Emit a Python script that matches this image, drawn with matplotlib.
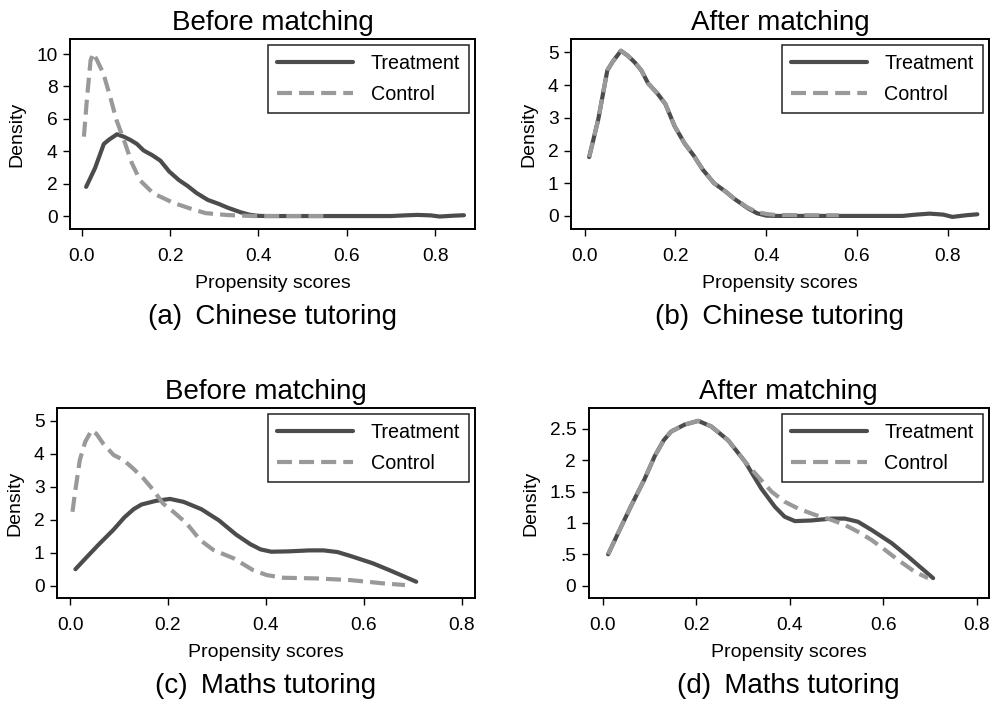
import matplotlib
matplotlib.use("Agg")
import matplotlib.pyplot as plt

plt.rcParams['font.family'] = ['Liberation Sans', 'DejaVu Sans']

# ---------------- data ----------------
chn_treat_x = [0.01, 0.03, 0.05, 0.062, 0.08, 0.095, 0.11, 0.125, 0.14, 0.16, 0.178, 0.198,
               0.22, 0.24, 0.26, 0.285, 0.31, 0.33, 0.36, 0.38, 0.40, 0.42, 0.5, 0.6, 0.7,
               0.73, 0.76, 0.79, 0.81, 0.84, 0.865]
chn_treat_y = [1.8, 2.95, 4.45, 4.72, 5.05, 4.9, 4.7, 4.45, 4.05, 3.75, 3.42, 2.75,
               2.22, 1.85, 1.42, 1.0, 0.75, 0.52, 0.23, 0.08, 0.01, 0.0, 0.0, 0.0, 0.0,
               0.04, 0.07, 0.04, -0.03, 0.02, 0.05]

chn_ctrl_before_x = [0.005, 0.012, 0.02, 0.026, 0.035, 0.049, 0.064, 0.079, 0.098, 0.113,
                     0.132, 0.162, 0.207, 0.245, 0.28, 0.33, 0.39, 0.45, 0.5, 0.56]
chn_ctrl_before_y = [4.9, 7.3, 9.6, 10.05, 9.6, 8.8, 7.4, 5.9, 4.5, 3.3,
                     2.2, 1.4, 0.82, 0.47, 0.18, 0.06, 0.0, 0.0, 0.0, 0.0]

chn_ctrl_after_x = [0.01, 0.03, 0.05, 0.062, 0.08, 0.095, 0.11, 0.125, 0.14, 0.16, 0.178, 0.198,
                    0.22, 0.24, 0.26, 0.285, 0.31, 0.33, 0.36, 0.38, 0.40, 0.42, 0.5, 0.56]
chn_ctrl_after_y = [1.8, 2.95, 4.45, 4.72, 5.05, 4.9, 4.7, 4.45, 4.05, 3.75, 3.42, 2.75,
                    2.22, 1.85, 1.42, 1.0, 0.75, 0.52, 0.25, 0.12, 0.06, 0.03, 0.02, 0.02]

math_treat_x = [0.011, 0.035, 0.06, 0.089, 0.111, 0.13, 0.146, 0.175, 0.204, 0.232, 0.268,
                0.304, 0.339, 0.368, 0.389, 0.411, 0.446, 0.489, 0.518, 0.546, 0.575,
                0.618, 0.654, 0.682, 0.707]
math_treat_y = [0.5, 0.88, 1.27, 1.7, 2.07, 2.32, 2.46, 2.57, 2.63, 2.54, 2.32,
                1.98, 1.55, 1.26, 1.10, 1.03, 1.04, 1.07, 1.07, 1.02, 0.89,
                0.68, 0.46, 0.28, 0.12]

math_ctrl_before_x = [0.005, 0.01, 0.02, 0.031, 0.044, 0.054, 0.068, 0.089, 0.109, 0.129,
                      0.15, 0.17, 0.19, 0.211, 0.238, 0.266, 0.293, 0.334, 0.374, 0.402,
                      0.436, 0.504, 0.572, 0.606, 0.64, 0.684]
math_ctrl_before_y = [2.24, 2.8, 3.81, 4.36, 4.71, 4.6, 4.3, 3.96, 3.81, 3.55,
                      3.25, 2.9, 2.49, 2.24, 1.89, 1.38, 1.08, 0.83, 0.47, 0.32,
                      0.24, 0.22, 0.17, 0.12, 0.07, 0.02]

math_ctrl_after_x = [0.011, 0.035, 0.06, 0.089, 0.111, 0.13, 0.146, 0.175, 0.204, 0.232, 0.268,
                     0.304, 0.332, 0.361, 0.389, 0.418, 0.454, 0.489, 0.518, 0.546, 0.575,
                     0.604, 0.632, 0.668, 0.696]
math_ctrl_after_y = [0.5, 0.88, 1.27, 1.7, 2.07, 2.32, 2.46, 2.57, 2.63, 2.54, 2.32,
                     1.98, 1.74, 1.50, 1.34, 1.23, 1.13, 1.05, 0.97, 0.86, 0.73,
                     0.57, 0.41, 0.22, 0.12]

x_ticks = [0.0, 0.2, 0.4, 0.6, 0.8]
x_ticklabels = ["0.0", "0.2", "0.4", "0.6", "0.8"]

yticks_a = [0, 2, 4, 6, 8, 10]
yticklabels_a = ["0", "2", "4", "6", "8", "10"]
yticks_b = [0, 1, 2, 3, 4, 5]
yticklabels_b = ["0", "1", "2", "3", "4", "5"]
yticks_c = [0, 1, 2, 3, 4, 5]
yticklabels_c = ["0", "1", "2", "3", "4", "5"]
yticks_d = [0, 0.5, 1, 1.5, 2, 2.5]
yticklabels_d = ["0", ".5", "1", "1.5", "2", "2.5"]

titles = ["Before matching", "After matching", "Before matching", "After matching"]
captions = ["(a)\u2009 Chinese tutoring", "(b)\u2009 Chinese tutoring",
            "(c)\u2009 Maths tutoring", "(d)\u2009 Maths tutoring"]
series_labels = ["Treatment", "Control"]

# ---------------- layout ----------------
W, H = 996, 705
fig = plt.figure(figsize=(W / 100, H / 100), dpi=100)

def px_axes(l, t, r, b):
    return fig.add_axes([l / W, 1 - b / H, (r - l) / W, (b - t) / H])

ax_a = px_axes(70, 39, 475, 229)
ax_b = px_axes(571, 39, 988.7, 229)
ax_c = px_axes(57, 408, 475, 598)
ax_d = px_axes(588.7, 408, 988.7, 598)

TREAT_C = "#4c4c4c"
CTRL_C = "#999999"
LW = 3.0

panels = [
    (ax_a, chn_treat_x, chn_treat_y, chn_ctrl_before_x, chn_ctrl_before_y,
     yticks_a, yticklabels_a, (-0.0265, 0.89), (-0.80, 10.93)),
    (ax_b, chn_treat_x, chn_treat_y, chn_ctrl_after_x, chn_ctrl_after_y,
     yticks_b, yticklabels_b, (-0.030, 0.89), (-0.40, 5.41)),
    (ax_c, math_treat_x, math_treat_y, math_ctrl_before_x, math_ctrl_before_y,
     yticks_c, yticklabels_c, (-0.0266, 0.827), (-0.373, 5.385)),
    (ax_d, math_treat_x, math_treat_y, math_ctrl_after_x, math_ctrl_after_y,
     yticks_d, yticklabels_d, (-0.0306, 0.826), (-0.197, 2.835)),
]

for i, (ax, tx, ty, cx, cy, yt, ytl, xl, yl) in enumerate(panels):
    ax.plot(tx, ty, color=TREAT_C, lw=LW, solid_capstyle='round',
            solid_joinstyle='round', label=series_labels[0], zorder=3)
    ax.plot(cx, cy, color=CTRL_C, lw=LW, dashes=(3.6, 1.7), dash_capstyle='butt',
            label=series_labels[1], zorder=4)
    ax.set_xlim(*xl)
    ax.set_ylim(*yl)
    ax.set_xticks(x_ticks)
    ax.set_xticklabels(x_ticklabels)
    ax.set_yticks(yt)
    ax.set_yticklabels(ytl)
    ax.tick_params(axis='both', direction='out', length=5, width=1.0,
                   labelsize=13.8, color='black')
    ax.tick_params(axis='x', pad=9)
    ax.tick_params(axis='y', pad=4)
    for s in ax.spines.values():
        s.set_linewidth(1.4)
        s.set_color('black')
    ax.set_xlabel("Propensity scores", fontsize=14, labelpad=7)
    ax.set_ylabel("Density", fontsize=14, labelpad=7.5)
    leg = ax.legend(loc='upper right', fontsize=14.2, frameon=True, fancybox=False,
                    framealpha=1, edgecolor='#222222', borderpad=0.46,
                    handlelength=3.86, handletextpad=0.87, labelspacing=0.6,
                    borderaxespad=0.3)
    leg.get_frame().set_linewidth(1.1)
    ax.annotate(titles[i], xy=(0.5, 1.0), xycoords='axes fraction',
                xytext=(0, 11.8), textcoords='offset points',
                ha='center', va='center', fontsize=20)
    ax.annotate(captions[i], xy=(0.5, 0.0), xycoords='axes fraction',
                xytext=(0, -63.5), textcoords='offset points',
                ha='center', va='center', fontsize=20)

fig.savefig("out.png", dpi=100)
